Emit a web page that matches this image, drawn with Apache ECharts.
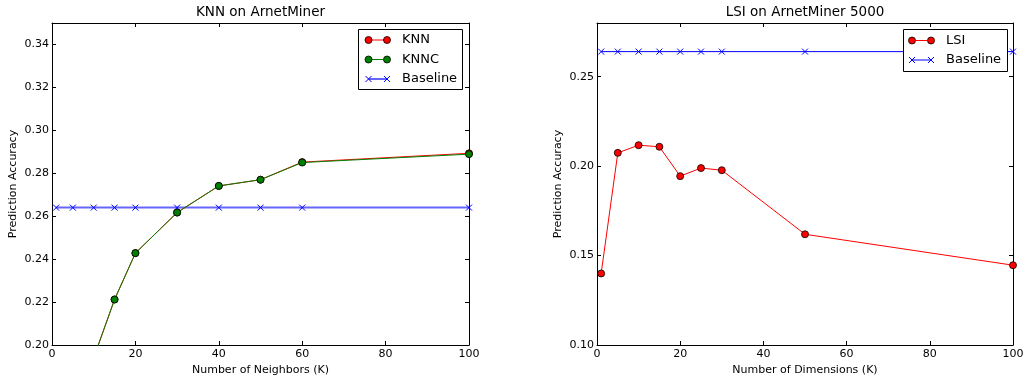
<!DOCTYPE html>
<html><head><meta charset="utf-8">
<script src="https://cdn.jsdelivr.net/npm/echarts@6/dist/echarts.min.js"></script>
<style>html,body{margin:0;padding:0;background:#fff}#c{width:1027px;height:377px}</style>
</head><body><div id="c"></div><script>
// ---- data ----
const knnX = [1, 5, 10, 15, 20, 30, 40, 50, 60, 100];
const knnY = [0.150, 0.178, 0.194, 0.2212, 0.2428, 0.2617, 0.2741, 0.2770, 0.2852, 0.2893];
const knncY = [0.150, 0.178, 0.194, 0.2212, 0.2428, 0.2617, 0.2741, 0.2770, 0.2850, 0.2889];
const baseLeftY = [0.264, 0.264, 0.264, 0.264, 0.264, 0.264, 0.264, 0.264, 0.264, 0.264];
const lsiX = [1, 5, 10, 15, 20, 25, 30, 50, 100];
const lsiY = [0.140, 0.2074, 0.2117, 0.2108, 0.1944, 0.1989, 0.1977, 0.1619, 0.1446];
const baseRightY = [0.264, 0.264, 0.264, 0.264, 0.264, 0.264, 0.264, 0.264, 0.264];
const titles = ['KNN on ArnetMiner', 'LSI on ArnetMiner 5000'];
const xNames = ['Number of Neighbors (K)', 'Number of Dimensions (K)'];
const yName = 'Prediction Accuracy';
const leftLegend = ['KNN', 'KNNC', 'Baseline'];
const rightLegend = ['LSI', 'Baseline'];

const FONT = 'DejaVu Sans';
const pairs = (xs, ys) => xs.map((x, i) => [x, ys[i]]);
const XSYM = 'path://M0,0L10,10M10,0L0,10';

function xAxisCfg(grid, pos, name, showLabel) {
  return {
    type: 'value', gridIndex: grid, position: pos, min: 0, max: 100, interval: 20,
    name: showLabel ? name : '', nameLocation: 'middle', nameGap: 15.5,
    nameTextStyle: {fontFamily: FONT, fontSize: 11, color: '#000'},
    axisLine: {show: true, onZero: false, lineStyle: {color: '#000', width: 1}},
    axisTick: {show: true, inside: true, length: 4, lineStyle: {color: '#000'}},
    axisLabel: {show: showLabel, margin: 4, fontFamily: FONT, fontSize: 11, color: '#000'},
    splitLine: {show: false}
  };
}
function yAxisCfg(grid, pos, min, max, interval, showLabel) {
  return {
    type: 'value', gridIndex: grid, position: pos, min: min, max: max, interval: interval,
    name: showLabel ? yName : '', nameLocation: 'middle', nameGap: 33,
    nameTextStyle: {fontFamily: FONT, fontSize: 11, color: '#000'},
    axisLine: {show: true, onZero: false, lineStyle: {color: '#000', width: 1}},
    axisTick: {show: true, inside: true, length: 4, lineStyle: {color: '#000'}},
    axisLabel: {show: showLabel, margin: 3, fontFamily: FONT, fontSize: 11, color: '#000',
      showMaxLabel: false, formatter: v => v.toFixed(2)},
    splitLine: {show: false}
  };
}
function circleSeries(name, xi, yi, data, color, z) {
  return {
    type: 'line', name: name, xAxisIndex: xi, yAxisIndex: yi, data: data, z: z,
    symbol: 'circle', symbolSize: 7, clip: true,
    lineStyle: {color: color, width: 1},
    itemStyle: {color: color, borderColor: '#000', borderWidth: 0.8},
    emphasis: {disabled: true}, animation: false
  };
}
function xSeries(name, xi, yi, data, lineColor, lineWidth) {
  return {
    type: 'line', name: name, xAxisIndex: xi, yAxisIndex: yi, data: data, z: 2,
    symbol: XSYM, symbolSize: 6, clip: true,
    lineStyle: {color: lineColor, width: lineWidth},
    itemStyle: {color: 'rgba(0,0,0,0)', borderColor: '#0000ff', borderWidth: 1},
    emphasis: {disabled: true}, animation: false
  };
}

// legend drawn with graphic elements (matplotlib-style: two markers per entry)
function legendGraphic(box, rows) {
  const els = [{type: 'rect', z: 100, shape: {x: box[0] + 0.5, y: box[1] + 0.5, width: box[2] - box[0], height: box[3] - box[1]},
    style: {fill: '#fff', stroke: '#000', lineWidth: 1}}];
  rows.forEach(r => {
    els.push({type: 'line', z: 101, shape: {x1: r.x1, y1: r.y, x2: r.x2, y2: r.y},
      style: {stroke: r.lineColor, lineWidth: r.lineWidth}});
    [r.x1, r.x2].forEach(cx => {
      if (r.kind === 'circle') {
        els.push({type: 'circle', z: 102, shape: {cx: cx, cy: r.y, r: 3.5},
          style: {fill: r.color, stroke: '#000', lineWidth: 0.8}});
      } else {
        els.push({type: 'polyline', z: 102, shape: {points: [[cx - 3, r.y - 3], [cx + 3, r.y + 3]]}, style: {stroke: '#00f', lineWidth: 1}});
        els.push({type: 'polyline', z: 102, shape: {points: [[cx - 3, r.y + 3], [cx + 3, r.y - 3]]}, style: {stroke: '#00f', lineWidth: 1}});
      }
    });
    els.push({type: 'text', z: 103, x: r.tx, y: r.y,
      style: {text: r.label, fontFamily: FONT, fontSize: 13, fill: '#000', verticalAlign: 'middle', align: 'left'}});
  });
  return els;
}

const chart = echarts.init(document.getElementById('c'), null, {renderer: 'canvas'});
chart.setOption({
  backgroundColor: '#fff',
  animation: false,
  title: [
    {text: titles[0], left: 260.5, top: 5, padding: 0, textAlign: 'center', textStyle: {fontFamily: FONT, fontSize: 13.5, fontWeight: 'normal', color: '#000'}},
    {text: titles[1], left: 805, top: 5, padding: 0, textAlign: 'center', textStyle: {fontFamily: FONT, fontSize: 13.5, fontWeight: 'normal', color: '#000'}}
  ],
  grid: [
    {left: 52, right: 1027 - 469, top: 23, bottom: 377 - 345, containLabel: false, outerBoundsMode: 'none'},
    {left: 597, right: 1027 - 1013, top: 23, bottom: 377 - 345, containLabel: false, outerBoundsMode: 'none'}
  ],
  xAxis: [
    xAxisCfg(0, 'bottom', xNames[0], true),
    xAxisCfg(0, 'top', '', false),
    xAxisCfg(1, 'bottom', xNames[1], true),
    xAxisCfg(1, 'top', '', false)
  ],
  yAxis: [
    yAxisCfg(0, 'left', 0.20, 0.35, 0.02, true),
    yAxisCfg(0, 'right', 0.20, 0.35, 0.02, false),
    yAxisCfg(1, 'left', 0.10, 0.28, 0.05, true),
    yAxisCfg(1, 'right', 0.10, 0.28, 0.05, false)
  ],
  series: [
    circleSeries(leftLegend[0], 0, 0, pairs(knnX, knnY), '#ff0000', 3),
    circleSeries(leftLegend[1], 0, 0, pairs(knnX, knncY), '#008000', 4),
    xSeries(leftLegend[2], 0, 0, pairs(knnX, baseLeftY), 'rgba(0,0,255,0.6)', 2),
    circleSeries(rightLegend[0], 2, 2, pairs(lsiX, lsiY), '#ff0000', 3),
    xSeries(rightLegend[1], 2, 2, pairs(lsiX, baseRightY), '#0000ff', 1)
  ],
  graphic: legendGraphic([358, 29, 462, 89], [
    {label: leftLegend[0], kind: 'circle', color: '#ff0000', lineColor: '#ff0000', lineWidth: 1, x1: 368.5, x2: 387, y: 40, tx: 402},
    {label: leftLegend[1], kind: 'circle', color: '#008000', lineColor: '#008000', lineWidth: 1, x1: 368.5, x2: 387, y: 59.5, tx: 402},
    {label: leftLegend[2], kind: 'x', color: '#0000ff', lineColor: 'rgba(0,0,255,0.6)', lineWidth: 2, x1: 368.5, x2: 387, y: 79, tx: 402}
  ]).concat(legendGraphic([903, 29, 1007, 71], [
    {label: rightLegend[0], kind: 'circle', color: '#ff0000', lineColor: '#ff0000', lineWidth: 1, x1: 912, x2: 931, y: 40.5, tx: 946},
    {label: rightLegend[1], kind: 'x', color: '#0000ff', lineColor: '#0000ff', lineWidth: 1, x1: 912, x2: 931, y: 60, tx: 946}
  ]))
});
</script></body></html>
